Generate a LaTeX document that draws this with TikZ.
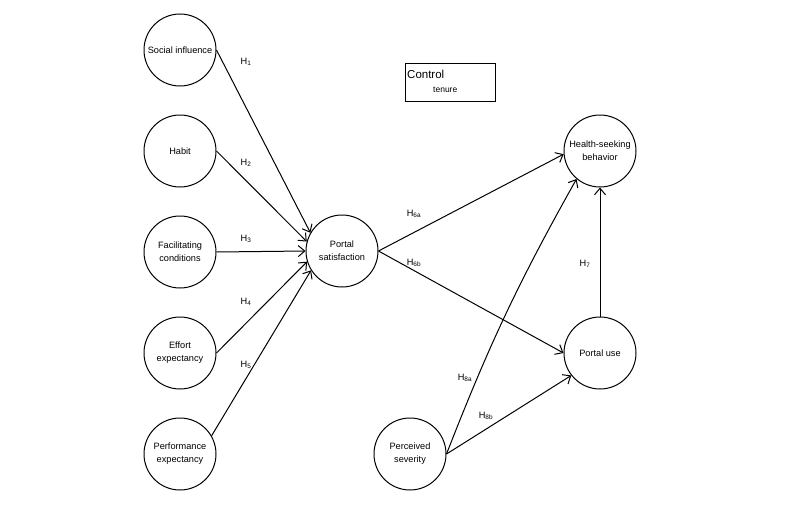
\documentclass[tikz,border=0pt]{standalone}
\usepackage{fontspec}
\setmainfont{Liberation Sans}
\usetikzlibrary{arrows.meta}
\newcommand{\hyp}[1]{H\textsubscript{#1}}

\begin{document}
\begin{tikzpicture}[x=1pt,y=-1pt,
  construct/.style={draw,circle,line width=1pt,minimum size=72pt,inner sep=0pt,align=center,font=\fontsize{9.2}{13}\selectfont},
  hlabel/.style={font=\fontsize{9.2}{11}\selectfont},
  effect/.style={-{Straight Barb[length=6.5pt,width=11pt]},line width=1pt}]
 \useasboundingbox (0,0) rectangle (800,514);
 % left constructs
 \node[construct] (si) at (180,50)  {Social influence};
 \node[construct] (hb) at (180,151) {Habit};
 \node[construct] (fc) at (180,252) {Facilitating\\conditions};
 \node[construct] (ee) at (180,353) {Effort\\expectancy};
 \node[construct] (pe) at (180,454) {Performance\\expectancy};
 % middle and right
 \node[construct] (ps) at (342,251) {Portal\\satisfaction};
 \node[construct] (hs) at (600,151) {Health-seeking\\behavior};
 \node[construct] (pu) at (600,353) {Portal use};
 \node[construct] (sv) at (410,454) {Perceived\\severity};
 % control box
 \node[draw,line width=1pt,minimum width=90pt,minimum height=38pt] (ctrl) at (450,82) {};
 \node[anchor=base west,font=\fontsize{11.5}{13}\selectfont,inner sep=0pt] (ctrlname) at (407,78) {Control};
 \node[anchor=base west,font=\fontsize{8.5}{10}\selectfont,inner sep=0pt] (ctrlvar) at (433,92) {tenure};

 \draw[effect] (si.east) -- (ps.150);
 \draw[effect] (hb.east) -- (ps.165);
 \draw[effect] (fc.east) -- (ps.west);
 \draw[effect] (ee.east) -- (ps.197);
 \draw[effect] (pe.30)   -- (ps.212);
 \draw[effect] (ps.east) -- (hs.185);
 \draw[effect] (ps.east) -- (pu.west);
 \draw[effect] (sv.east) to[bend left=4] (hs.230);
 \draw[effect] (sv.east) -- (pu.218);
 \draw[effect] (pu.north) -- (hs.south);

 \node[hlabel] (h1)  at (246,62)  {\hyp{1}};
 \node[hlabel] (h2)  at (246,163) {\hyp{2}};
 \node[hlabel] (h3)  at (246,239) {\hyp{3}};
 \node[hlabel] (h4)  at (246,302) {\hyp{4}};
 \node[hlabel] (h5)  at (246,365) {\hyp{5}};
 \node[hlabel] (h6a) at (414,214) {\hyp{6a}};
 \node[hlabel] (h6b) at (414,263) {\hyp{6b}};
 \node[hlabel] (h7)  at (585,264) {\hyp{7}};
 \node[hlabel] (h8a) at (465,378) {\hyp{8a}};
 \node[hlabel] (h8b) at (486,416) {\hyp{8b}};
\end{tikzpicture}
\end{document}
